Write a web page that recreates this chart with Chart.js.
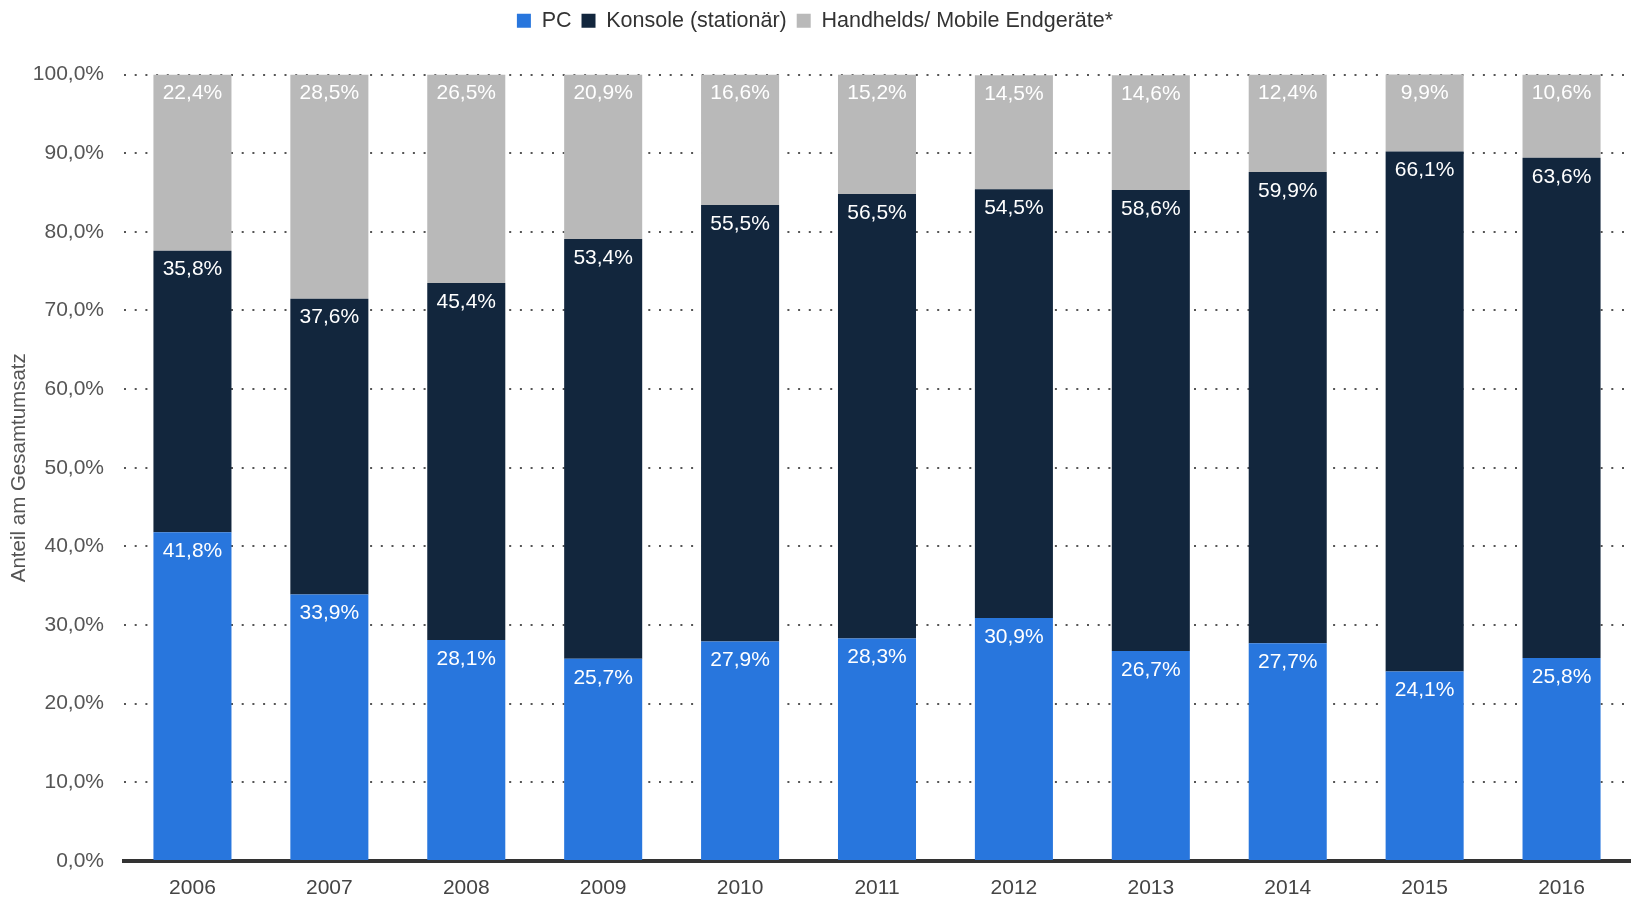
<!DOCTYPE html>
<html lang="de">
<head>
<meta charset="utf-8">
<title>Umsatzanteile nach Plattform</title>
<script src="https://cdn.jsdelivr.net/npm/chart.js@4/dist/chart.umd.min.js"></script>
<style>
  html, body { margin: 0; padding: 0; background: #fff; overflow: hidden; }
  #wrap { width: 1631px; height: 901px; }
  canvas { display: block; }
</style>
</head>
<body>
<div id="wrap"><canvas id="shareChart" width="1631" height="901"></canvas></div>
<script>
const years = ['2006', '2007', '2008', '2009', '2010', '2011', '2012', '2013', '2014', '2015', '2016'];
const pcShare = [41.8, 33.9, 28.1, 25.7, 27.9, 28.3, 30.9, 26.7, 27.7, 24.1, 25.8];
const consoleShare = [35.8, 37.6, 45.4, 53.4, 55.5, 56.5, 54.5, 58.6, 59.9, 66.1, 63.6];
const mobileShare = [22.4, 28.5, 26.5, 20.9, 16.6, 15.2, 14.5, 14.6, 12.4, 9.9, 10.6];
const yTicks = [0, 10, 20, 30, 40, 50, 60, 70, 80, 90, 100];

Chart.defaults.font.family = '"Liberation Sans", Arial, sans-serif';
Chart.defaults.color = '#555';

const fmt = v => v.toFixed(1).replace('.', ',') + '%';

// white value labels just below the top edge of every segment
const segmentLabels = {
    id: 'segmentLabels',
    afterDatasetsDraw(chart) {
        const ctx = chart.ctx;
        ctx.save();
        ctx.font = '21px "Liberation Sans", Arial, sans-serif';
        ctx.fillStyle = '#fff';
        ctx.textAlign = 'center';
        ctx.textBaseline = 'middle';
        chart.data.datasets.forEach((ds, i) => {
            chart.getDatasetMeta(i).data.forEach((bar, j) => {
                ctx.fillText(fmt(ds.data[j]), bar.x, bar.y + 19);
            });
        });
        ctx.restore();
    }
};

// extra room between legend and plot
const legendGap = {
    id: 'legendGap',
    beforeInit(chart) {
        const fit = chart.legend.fit;
        chart.legend.fit = function () {
            fit.bind(chart.legend)();
            this.height += 33;
        };
    }
};

new Chart(document.getElementById('shareChart').getContext('2d'), {
    type: 'bar',
    data: {
        labels: years,
        datasets: [
            { label: 'PC', data: pcShare, backgroundColor: '#2876dd' },
            { label: 'Konsole (stationär)', data: consoleShare, backgroundColor: '#12263d' },
            { label: 'Handhelds/ Mobile Endgeräte*', data: mobileShare, backgroundColor: '#b9b9b9' }
        ]
    },
    options: {
        responsive: false,
        animation: false,
        layout: { padding: { top: 0, right: 1, bottom: 0, left: 0 } },
        datasets: { bar: { barPercentage: 0.57, categoryPercentage: 1 } },
        plugins: {
            legend: {
                labels: {
                    boxWidth: 14,
                    boxHeight: 14,
                    padding: 10,
                    color: '#333',
                    font: { size: 21.5 }
                }
            },
            tooltip: { enabled: false }
        },
        scales: {
            x: {
                stacked: true,
                z: 1,
                afterFit: scale => { scale.height = 40; },
                grid: { display: false },
                border: { display: true, color: '#333', width: 4 },
                ticks: { padding: 7, color: '#444', font: { size: 21 } }
            },
            y: {
                stacked: true,
                min: 0,
                max: 100,
                afterBuildTicks: scale => { scale.ticks = yTicks.map(v => ({ value: v })); },
                afterFit: scale => { scale.width = 124; },
                grid: { color: '#555', lineWidth: 2, drawTicks: false },
                border: { display: false, dash: [2, 8.7] },
                ticks: { padding: 20, color: '#555', font: { size: 21 }, callback: v => fmt(v) },
                title: {
                    display: true,
                    text: 'Anteil am Gesamtumsatz',
                    color: '#555',
                    font: { size: 20.5 },
                    padding: { top: 7, bottom: 4 }
                }
            }
        }
    },
    plugins: [segmentLabels, legendGap]
});
</script>
</body>
</html>
